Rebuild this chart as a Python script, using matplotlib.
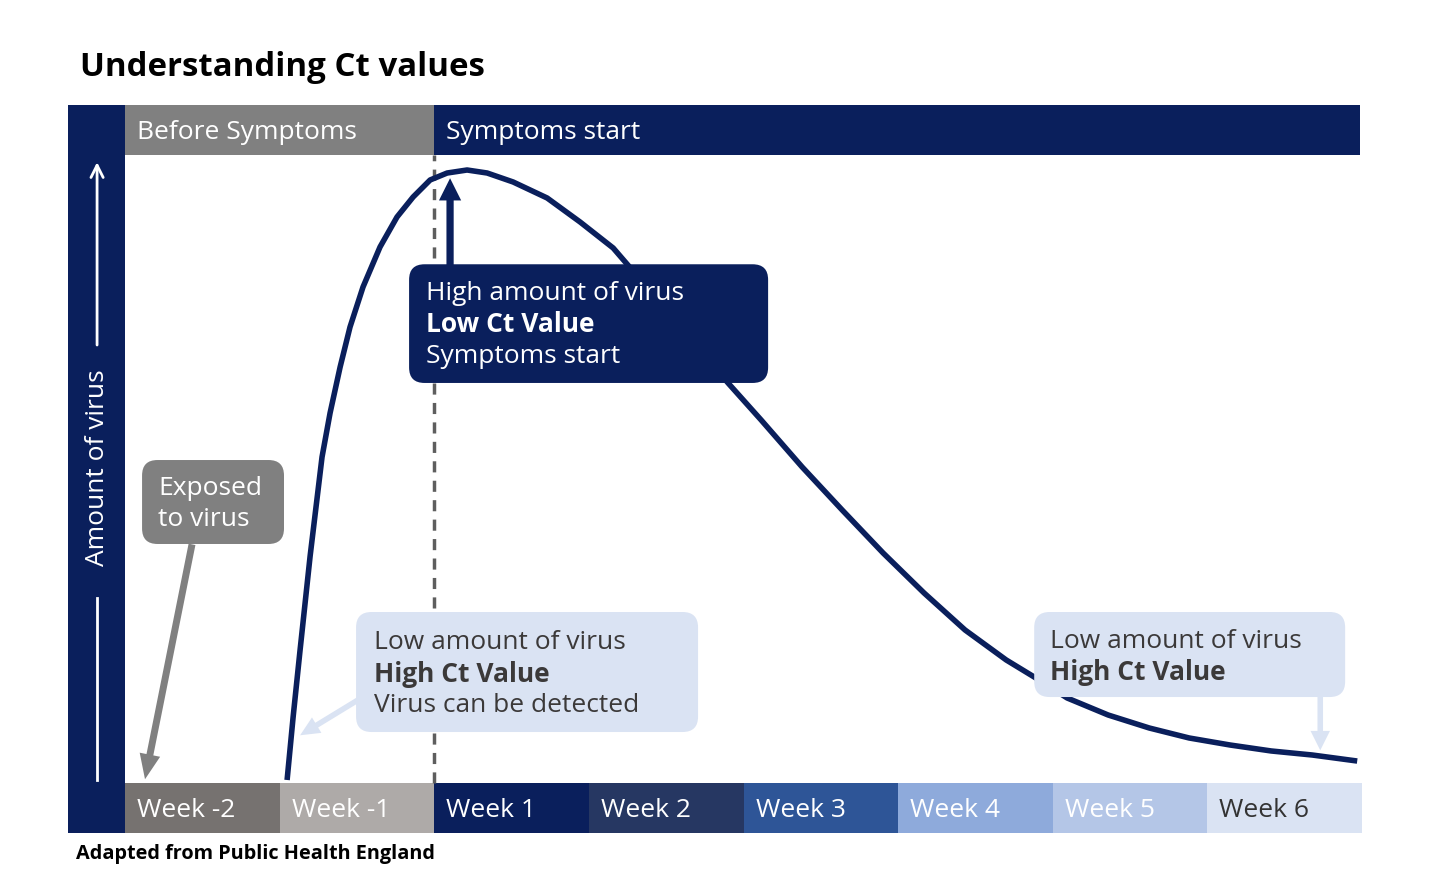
import matplotlib.pyplot as plt
from matplotlib.patches import Rectangle, FancyBboxPatch

plt.rcParams['font.family'] = ['Open Sans', 'DejaVu Sans']

# virus curve (x in weeks from start of "Week -2", y = amount of virus 0-100)
curve_x = [1.048, 1.087, 1.132, 1.197, 1.274, 1.326, 1.391, 1.455, 1.539, 1.649, 1.759,
           1.863, 1.973, 2.083, 2.212, 2.342, 2.510, 2.730, 2.943, 3.157, 3.525, 3.900,
           4.114, 4.379, 4.638, 4.903, 5.168, 5.433, 5.699, 5.880, 6.093, 6.358, 6.624,
           6.882, 7.147, 7.413, 7.678, 7.969]
curve_y = [0.48, 10.51, 21.18, 36.15, 51.91, 58.92, 66.24, 72.61, 78.98, 85.35, 90.13,
           93.31, 96.02, 97.13, 97.61, 97.13, 95.70, 93.15, 89.33, 85.19, 74.68, 63.69,
           57.80, 50.32, 43.47, 36.62, 30.25, 24.36, 19.59, 16.88, 13.54, 10.83, 8.76,
           7.17, 6.05, 5.10, 4.46, 3.50]

weeks = ['Week -2', 'Week -1', 'Week 1', 'Week 2', 'Week 3', 'Week 4', 'Week 5', 'Week 6']
week_colors = ['#767270', '#aeaaa8', '#0a1f5c', '#263762', '#2e5597', '#8eaadb', '#b4c6e7', '#dae3f3']
week_text = ['white'] * 7 + ['#333333']

navy = '#0a1f5c'
grey = '#808080'
light = '#dae3f3'
dark_txt = '#3b3939'

fig = plt.figure(figsize=(14.3, 8.8), dpi=100)
ax = fig.add_axes([68 / 1430, 47 / 880, 1294 / 1430, 728 / 880])
xmin, xmax, ymin, ymax = -0.369, 8.0, -7.96, 107.96
ax.set_xlim(xmin, xmax)
ax.set_ylim(ymin, ymax)
ax.axis('off')

# aspect for rounded boxes
asp = (1294 / (xmax - xmin)) / (728 / (ymax - ymin))

# left strip + header
ax.add_patch(Rectangle((xmin, ymin), -xmin, ymax - ymin, color=navy, lw=0, zorder=1))
ax.add_patch(Rectangle((0, 100), 2, ymax - 100, color=grey, lw=0, zorder=1))
ax.add_patch(Rectangle((2, 100), 5.99, ymax - 100, color=navy, lw=0, zorder=1))
ax.text(0.078, 103.6, 'Before Symptoms', color='white', fontsize=19, va='center', zorder=5)
ax.text(2.076, 103.6, 'Symptoms start', color='white', fontsize=19, va='center', zorder=5)

# week bar
for i, w in enumerate(weeks):
    ax.bar(i + 0.5, -ymin, width=1, bottom=ymin, color=week_colors[i], lw=0, zorder=1)
    ax.text(i + 0.078, -4.3, w, color=week_text[i], fontsize=19, va='center', zorder=5)

# y label with arrows
ax.text(-0.181, 50.2, 'Amount of virus', color='white', fontsize=19, rotation=90,
        ha='center', va='center', zorder=5)
ax.plot([-0.181, -0.181], [0.5, 29.5], color='white', lw=2, zorder=5)
ax.annotate('', xy=(-0.181, 99.3), xytext=(-0.181, 69.3),
            arrowprops=dict(arrowstyle='->', color='white', lw=2, mutation_scale=22), zorder=5)

# symptom onset line
ax.plot([2, 2], [0, 100], color='#5e5e5e', lw=2.5, ls=(0, (3.2, 2.4)), zorder=2)

# navy arrow to the peak (under the curve)
ax.annotate('', xy=(2.102, 96.3), xytext=(2.102, 82.0),
            arrowprops=dict(width=5.2, headwidth=16, headlength=16, shrink=0, color=navy, lw=0),
            zorder=2)

# curve
ax.plot(curve_x, curve_y, color=navy, lw=4, solid_capstyle='butt', solid_joinstyle='round', zorder=3)


def box(x0, y0, x1, y1, fc):
    ax.add_patch(FancyBboxPatch((x0, y0), x1 - x0, y1 - y0,
                                boxstyle='round,pad=0,rounding_size=0.1',
                                mutation_aspect=asp, fc=fc, ec='none', zorder=4))


def lines(x, ys, texts, weights, color):
    for y, t, wt in zip(ys, texts, weights):
        ax.text(x, y, t, color=color, fontsize=19, fontweight=wt, va='center', zorder=5)


# high amount box
box(1.837, 63.7, 4.159, 82.6, navy)
lines(1.947, [77.95, 73.0, 67.95], ['High amount of virus', 'Low Ct Value', 'Symptoms start'],
      ['normal', 'bold', 'normal'], 'white')

# exposed box
box(0.110, 38.06, 1.028, 51.43, grey)
lines(0.213, [46.9, 42.0], ['Exposed', 'to virus'], ['normal', 'normal'], 'white')
ax.annotate('', xy=(0.129, 0.6), xytext=(0.433, 38.0),
            arrowprops=dict(width=5, headwidth=15, headlength=18, shrink=0, color=grey, lw=0),
            zorder=4)

# low amount box (early)
box(1.494, 8.12, 3.706, 27.23, light)
lines(1.611, [22.4, 17.35, 12.4], ['Low amount of virus', 'High Ct Value', 'Virus can be detected'],
      ['normal', 'bold', 'normal'], dark_txt)
ax.annotate('', xy=(1.132, 7.6), xytext=(1.505, 13.2),
            arrowprops=dict(width=4, headwidth=13, headlength=14, shrink=0, color=light, lw=0),
            zorder=4)

# low amount box (late)
box(5.880, 13.69, 7.891, 27.23, light)
lines(5.983, [22.6, 17.65], ['Low amount of virus', 'High Ct Value'], ['normal', 'bold'], dark_txt)
ax.annotate('', xy=(7.730, 5.2), xytext=(7.730, 13.8),
            arrowprops=dict(width=4, headwidth=14, headlength=14, shrink=0, color=light, lw=0),
            zorder=4)

fig.text(80 / 1430, 1 - 67 / 880, 'Understanding Ct values', fontsize=23.8, fontweight='bold', va='center')
fig.text(76 / 1430, 1 - 854 / 880, 'Adapted from Public Health England', fontsize=14.3,
         fontweight='bold', va='center')

fig.savefig('out.png', dpi=100)
